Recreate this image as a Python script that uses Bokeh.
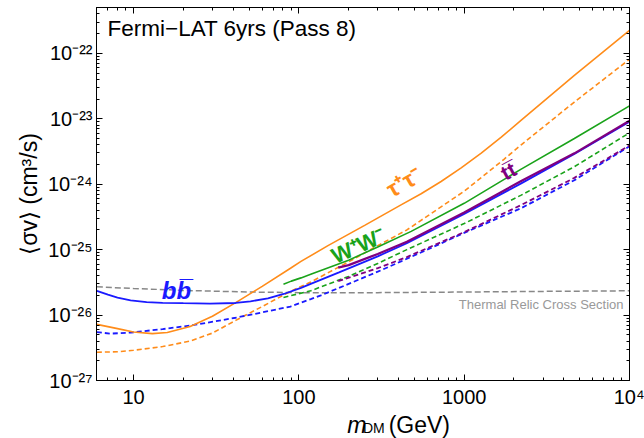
from bokeh.plotting import figure
from bokeh.layouts import column
from bokeh.models import Range1d, LogAxis, FixedTicker, CustomJSTickFormatter, Label
from bokeh.embed import file_html
from bokeh.resources import INLINE

# ---------------- data ----------------
thermal_m = [6, 10, 20, 50, 100, 300, 1000, 3000, 10000]
thermal_sv = [2.7e-26, 2.55e-26, 2.38e-26, 2.25e-26, 2.2e-26, 2.2e-26, 2.25e-26, 2.3e-26, 2.35e-26]

tau_obs_m = [6, 8, 10, 13, 16, 22, 30, 41.5, 60, 89, 103, 150, 250, 415, 549, 725, 959, 1268, 1676, 2215,
             4640, 10000]
tau_obs_sv = [7.2e-27, 6.2e-27, 5.5e-27, 5.2e-27, 5.4e-27, 6.7e-27, 9.6e-27, 1.55e-26, 2.75e-26, 5.2e-26,
              6.6e-26, 1.15e-25, 2.35e-25, 4.82e-25, 7.14e-25, 1.10e-24, 1.78e-24, 2.99e-24, 5.22e-24, 9.52e-24,
              4.6e-23, 2.24e-22]

tau_exp_m = [6, 8, 10, 15, 22, 30, 41.5, 60, 89, 118, 200, 300, 450, 1000, 1740, 2213, 4640, 10000]
tau_exp_sv = [2.7e-27, 2.75e-27, 2.9e-27, 3.3e-27, 4.0e-27, 5.3e-27, 8.3e-27, 1.35e-26, 2.3e-26, 3.2e-26,
              6.5e-26, 1.15e-25, 2.0e-25, 7.8e-25, 2.4e-24, 4.0e-24, 1.8e-23, 8.1e-23]

ww_obs_m = [80.7, 90, 103, 118, 200, 300, 478, 1000, 2213, 4640, 10000]
ww_obs_sv = [2.95e-26, 3.3e-26, 3.7e-26, 4.2e-26, 6.9e-26, 1.1e-25, 1.9e-25, 5.1e-25, 1.7e-24, 5.0e-24, 1.57e-23]

ww_exp_m = [80.7, 118, 200, 300, 450, 1000, 2213, 4640, 10000]
ww_exp_sv = [1.86e-26, 2.35e-26, 3.9e-26, 6.15e-26, 1.0e-25, 2.5e-25, 6.8e-25, 1.85e-24, 6.1e-24]

bb_obs_m = [6, 7, 8, 9.6, 12, 15, 20, 29, 41.5, 51, 65, 81, 103, 118, 175, 300, 450, 1000, 2213, 4640, 10000]
bb_obs_sv = [2.35e-26, 2.05e-26, 1.85e-26, 1.68e-26, 1.58e-26, 1.54e-26, 1.52e-26, 1.5e-26, 1.53e-26, 1.62e-26,
             1.8e-26, 2.1e-26, 2.6e-26, 3.0e-26, 4.5e-26, 7.9e-26, 1.25e-25, 3.5e-25, 1.03e-24, 2.9e-24, 9.0e-24]

bb_exp_m = [6, 7.25, 9.6, 15, 22, 41.5, 60, 89, 118, 136, 175, 300, 415, 1000, 2213, 4640, 10000]
bb_exp_sv = [5.5e-27, 5.2e-27, 5.4e-27, 6.1e-27, 6.9e-27, 9.1e-27, 1.1e-26, 1.35e-26, 1.75e-26, 2.0e-26,
             2.6e-26, 4.6e-26, 6.6e-26, 1.8e-25, 4.3e-25, 1.15e-24, 3.8e-24]

tt_obs_m = [173, 200, 300, 450, 1000, 2213, 4640, 10000]
tt_obs_sv = [5.3e-26, 5.8e-26, 8.6e-26, 1.32e-25, 3.7e-25, 1.12e-24, 2.96e-24, 9.3e-24]

tt_exp_m = [173, 300, 450, 1000, 2213, 4640, 10000]
tt_exp_sv = [3.3e-26, 5.2e-26, 7.7e-26, 1.85e-25, 4.8e-25, 1.25e-24, 3.9e-24]

x_major = [10, 100, 1000, 10000]
y_major = [1e-27, 1e-26, 1e-25, 1e-24, 1e-23, 1e-22]

# ---------------- styling ----------------
FONT = "Liberation Sans"
ORANGE = "#ff8c1a"
GREEN = "#1aa31a"
BLUE = "#1a1aff"
PURPLE = "#800080"
GRAY = "#888888"

x_minor = [k * 10 ** e for e in range(0, 4) for k in range(2, 10)]
y_minor = [k * 10.0 ** e for e in range(-28, -21) for k in range(2, 10)]

p = figure(width=644, height=410, x_axis_type="log", y_axis_type="log",
           x_range=Range1d(5.97, 10000), y_range=Range1d(1e-27, 10 ** -21.30),
           output_backend="svg", toolbar_location=None,
           min_border_left=96, min_border_right=15, min_border_top=7, min_border_bottom=29)
p.background_fill_color = "white"
p.border_fill_color = "white"
p.outline_line_color = "black"
p.outline_line_width = 1
p.xgrid.visible = False
p.ygrid.visible = False

sup_js = """
const sup = {"0":"\u2070","1":"\u00b9","2":"\u00b2","3":"\u00b3","4":"\u2074","5":"\u2075",
             "6":"\u2076","7":"\u2077","8":"\u2078","9":"\u2079","-":"\u207b"};
"""
yfmt = CustomJSTickFormatter(code=sup_js + """
const e = Math.round(Math.log10(tick));
return "10" + String(e).split("").map(c => sup[c]).join("");
""")
xfmt = CustomJSTickFormatter(code=sup_js + """
const e = Math.round(Math.log10(tick));
if (e >= 4) { return "10" + String(e).split("").map(c => sup[c]).join(""); }
return String(Math.round(tick));
""")

def style_axis(ax, ticks, minor, fmt=None, labels=True):
    ax.ticker = FixedTicker(ticks=ticks, minor_ticks=minor)
    ax.major_tick_in = 6
    ax.major_tick_out = 0
    ax.minor_tick_in = 3
    ax.minor_tick_out = 0
    ax.axis_line_color = "black"
    ax.major_tick_line_color = "black"
    ax.minor_tick_line_color = "black"
    if labels:
        ax.formatter = fmt
        ax.major_label_text_font = FONT
        ax.major_label_text_font_size = "20px"
        ax.major_label_text_color = "black"
    else:
        ax.major_label_text_font_size = "0px"
        ax.major_label_standoff = 0
        ax.major_label_text_alpha = 0

style_axis(p.xaxis[0], x_major, x_minor, xfmt)
p.xaxis[0].major_label_standoff = 5
style_axis(p.yaxis[0], y_major, y_minor, yfmt)
p.yaxis[0].major_label_standoff = 4
p.yaxis[0].axis_label = "\u27e8\u03c3v\u27e9 (cm\u00b3/s)"
p.yaxis[0].axis_label_text_font = FONT
p.yaxis[0].axis_label_text_font_size = "23px"
p.yaxis[0].axis_label_text_font_style = "normal"
p.yaxis[0].axis_label_text_color = "black"
p.yaxis[0].axis_label_standoff = 3

top_ax = LogAxis()
style_axis(top_ax, x_major, x_minor, labels=False)
p.add_layout(top_ax, "above")
right_ax = LogAxis()
style_axis(right_ax, y_major, y_minor, labels=False)
p.add_layout(right_ax, "right")

# ---------------- curves ----------------
p.line(thermal_m, thermal_sv, line_color=GRAY, line_width=1.5, line_dash="6 3")

p.line(tau_exp_m, tau_exp_sv, line_color=ORANGE, line_width=1.6, line_dash="5 3")
p.line(ww_exp_m, ww_exp_sv, line_color=GREEN, line_width=1.6, line_dash="5 3")
p.line(bb_exp_m, bb_exp_sv, line_color=BLUE, line_width=1.8, line_dash="5 3")
p.line(tt_exp_m, tt_exp_sv, line_color=PURPLE, line_width=1.8, line_dash="5 3")

p.line(tau_obs_m, tau_obs_sv, line_color=ORANGE, line_width=1.6)
p.line(ww_obs_m, ww_obs_sv, line_color=GREEN, line_width=1.6)
p.line(bb_obs_m, bb_obs_sv, line_color=BLUE, line_width=1.8)
p.line(tt_obs_m, tt_obs_sv, line_color=PURPLE, line_width=2.2)

# ---------------- annotations ----------------
def lab(fig, x, y, text, color, size, style="bold", angle=0.0, align="center",
        baseline="middle", xu="data", yu="data"):
    fig.add_layout(Label(x=x, y=y, text=text, text_color=color, text_font=FONT,
                         text_font_size=size, text_font_style=style, angle=angle,
                         text_align=align, text_baseline=baseline,
                         x_units=xu, y_units=yu))

lab(p, 11, 352, "Fermi\u2212LAT 6yrs (Pass 8)", "black", "22.5px", style="normal",
    align="left", baseline="alphabetic", xu="screen", yu="screen")
lab(p, 18.2, 2.36e-26, "bb\u0305", BLUE, "24px", style="bold italic")
lab(p, 433, 1.08e-24, "\u03c4\u207a\u03c4\u207b", ORANGE, "23px", angle=0.52)
lab(p, 228, 1.14e-25, "W\u207aW\u207b", GREEN, "22px", angle=0.42)
lab(p, 1849, 1.59e-24, "tt\u0305", PURPLE, "21px", angle=0.5)
lab(p, 9204, 1.44e-26, "Thermal Relic Cross Section", "#999999", "13px", style="normal",
    align="right")

# ---------------- x-axis title strip: m_DM (GeV) ----------------
q = figure(width=644, height=28, x_range=Range1d(0, 644), y_range=Range1d(0, 28),
           output_backend="svg", toolbar_location=None, min_border=0)
q.axis.visible = False
q.grid.visible = False
q.outline_line_color = None
q.background_fill_color = "white"
q.border_fill_color = "white"
lab(q, 303, 14, "m", "black", "23px", style="italic", align="left", baseline="alphabetic")
lab(q, 322, 10.5, "DM", "black", "14px", style="normal", align="left", baseline="alphabetic")
lab(q, 353, 14, "(GeV)", "black", "23px", style="normal", align="left", baseline="alphabetic")

open("out.html", "w").write(file_html(column(p, q, spacing=0), INLINE))
